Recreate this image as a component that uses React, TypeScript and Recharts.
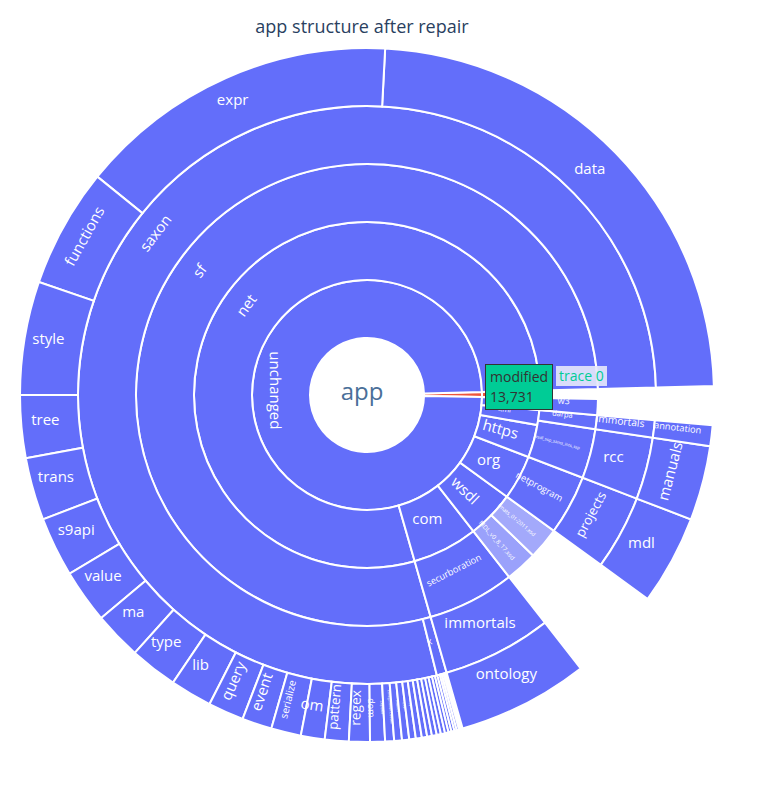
import React from "react";
import { PieChart, Pie, Cell } from "recharts";

// slice sizes (share of the circle), listed counter-clockwise from angle -1°
// gap: true means no node there at this depth
interface Node {
  name: string;
  value: number;
  gap?: boolean;
  tone?: string;
}

const BLUE = "#636efa";
const RED = "#ef553b";
const LIGHT = "#9aa1fb";

const ring1: Node[] = [
  { name: "modified", value: 2.5, tone: RED },
  { name: "unchanged", value: 357.5 },
];

const ring2: Node[] = [
  { name: "added", value: 2.5, tone: RED },
  { name: "net", value: 284.5 },
  { name: "com", value: 22 },
  { name: "wsdl", value: 16 },
  { name: "org", value: 15 },
  { name: "https", value: 11 },
  { name: "xml", value: 5 },
  { name: "schemas", value: 4 },
];

const ring3: Node[] = [
  { name: "", value: 2.5, gap: true },
  { name: "sf", value: 284.5 },
  { name: "securboration", value: 22 },
  { name: "MDL_v0_8_17.xsd", value: 8, tone: LIGHT },
  { name: "fmats_01-2011.xsd", value: 8, tone: "#a3a9fb" },
  { name: "netprogram", value: 15 },
  { name: "wsdl_ssp_sams_ints_ssp", value: 12.5 },
  { name: "darpa", value: 3.5 },
  { name: "w3", value: 4 },
];

const ring4: Node[] = [
  { name: "", value: 2.5, gap: true },
  { name: "saxon", value: 282.5 },
  { name: "x", value: 2 },
  { name: "immortals", value: 22 },
  { name: "", value: 16, gap: true },
  { name: "projects", value: 15 },
  { name: "rcc", value: 12.5 },
  { name: "immortals", value: 3.5 },
  { name: "", value: 4, gap: true },
];

const ring5: Node[] = [
  { name: "", value: 2.5, gap: true },
  { name: "data", value: 85.5 },
  { name: "expr", value: 54 },
  { name: "functions", value: 20 },
  { name: "style", value: 19 },
  { name: "tree", value: 10.5 },
  { name: "trans", value: 10.5 },
  { name: "s9api", value: 10 },
  { name: "value", value: 9 },
  { name: "ma", value: 8 },
  { name: "type", value: 8 },
  { name: "lib", value: 7 },
  { name: "query", value: 6 },
  { name: "event", value: 5 },
  { name: "serialize", value: 5 },
  { name: "om", value: 4 },
  { name: "pattern", value: 4 },
  { name: "regex", value: 3.5 },
  { name: "dom", value: 2.5 },
  { name: "sxpath", value: 1.5 },
  { name: "configuration.classes", value: 1.3 },
  { name: "resource", value: 1.2 },
  { name: "trace", value: 1.1 },
  { name: "z", value: 1 },
  { name: "tiny", value: 0.9 },
  { name: "sort", value: 0.8 },
  { name: "jaxp", value: 0.8 },
  { name: "java", value: 0.7 },
  { name: "dotnet", value: 0.7 },
  { name: "evpull", value: 0.6 },
  { name: "number", value: 0.5 },
  { name: "option", value: 0.5 },
  { name: "pull", value: 0.4 },
  { name: "xpath", value: 0.4 },
  { name: "om2", value: 0.3 },
  { name: "instruct", value: 0.3 },
  { name: "ontology", value: 22 },
  { name: "", value: 16, gap: true },
  { name: "mdl", value: 15 },
  { name: "manuals", value: 12.5 },
  { name: "annotation", value: 3.5 },
  { name: "", value: 4, gap: true },
];

const rings = [ring1, ring2, ring3, ring4, ring5];

const CX = 362;
const CY = 390;
const HOLE = 57;
const STEP = 58;
const RAD = Math.PI / 180;

const norm = (deg: number) => {
  let d = ((deg % 360) + 360) % 360;
  if (d > 180) d -= 360;
  if (d > 90) d -= 180;
  if (d < -90) d += 180;
  return d;
};

const renderLabel = (p: any) => {
  const node = p.payload?.payload ?? p.payload ?? p;
  if (p.gap || node.gap || !p.name) return null;
  const { midAngle, innerRadius, outerRadius, percent, name } = p;
  const span = percent * 2 * Math.PI;
  const rm = (innerRadius + outerRadius) / 2;
  const depth = outerRadius - innerRadius - 6;
  const arc = (innerRadius + depth * 0.35) * span - 3;
  const w0 = name.length * 0.56;
  const h0 = 1.15;
  const c = Math.abs(Math.cos(midAngle * RAD));
  const s = Math.abs(Math.sin(midAngle * RAD));
  const max = 15;
  let size = max;
  let rot = 0;
  const horiz =
    w0 * max * c + h0 * max * s <= depth && w0 * max * s + h0 * max * c <= arc;
  if (!(horiz && percent < 150 / 360)) {
    const tan = Math.min(max, (arc * 0.95) / w0, depth / h0);
    const rad = Math.min(max, depth / w0, arc / h0);
    if (tan >= rad) {
      size = tan;
      rot = norm(90 - midAngle);
    } else {
      size = rad;
      rot = norm(-midAngle);
    }
  }
  if (size < 2.5) return null;
  const x = CX + rm * Math.cos(-midAngle * RAD);
  const y = CY + rm * Math.sin(-midAngle * RAD);
  return (
    <text
      x={x}
      y={y}
      fill="#fff"
      fontSize={size}
      textAnchor="middle"
      dominantBaseline="central"
      transform={`rotate(${rot} ${x} ${y})`}
    >
      {name}
    </text>
  );
};

export default function App() {
  return (
    <div
      style={{
        position: "absolute",
        left: 0,
        top: 0,
        width: 766,
        height: 790,
        background: "#fff",
        fontFamily: "'Open Sans', sans-serif",
      }}
    >
      <div
        style={{
          position: "absolute",
          top: 14,
          left: 0,
          width: 724,
          textAlign: "center",
          fontSize: 18,
          color: "#2a3f5f",
        }}
      >
        app structure after repair
      </div>
      <PieChart width={766} height={790}>
        {rings.map((ring, i) => (
          <Pie
            key={i}
            data={ring}
            dataKey="value"
            nameKey="name"
            cx={CX}
            cy={CY}
            startAngle={-1}
            endAngle={359}
            innerRadius={HOLE + STEP * i}
            outerRadius={HOLE + STEP * (i + 1)}
            stroke="#fff"
            strokeWidth={2}
            label={renderLabel}
            labelLine={false}
            isAnimationActive={false}
          >
            {ring.map((d, j) => (
              <Cell
                key={j}
                fill={d.gap ? "transparent" : d.tone ?? BLUE}
                stroke={d.gap ? "none" : "#fff"}
              />
            ))}
          </Pie>
        ))}
        <text
          x={CX}
          y={CY}
          textAnchor="middle"
          dominantBaseline="central"
          fontSize={24}
          fill="#4a6f99"
        >
          app
        </text>
      </PieChart>
      <div
        style={{
          position: "absolute",
          left: 485,
          top: 364,
          padding: "2px 4px",
          background: "#00cc96",
          border: "1px solid #333",
          color: "#333",
          fontSize: 14,
          lineHeight: "20px",
        }}
      >
        modified
        <br />
        13,731
      </div>
      <div
        style={{
          position: "absolute",
          left: 556,
          top: 366,
          padding: "0 3px",
          background: "rgba(230,232,250,0.9)",
          color: "#00cc96",
          fontSize: 14,
          lineHeight: "20px",
        }}
      >
        trace 0
      </div>
    </div>
  );
}
